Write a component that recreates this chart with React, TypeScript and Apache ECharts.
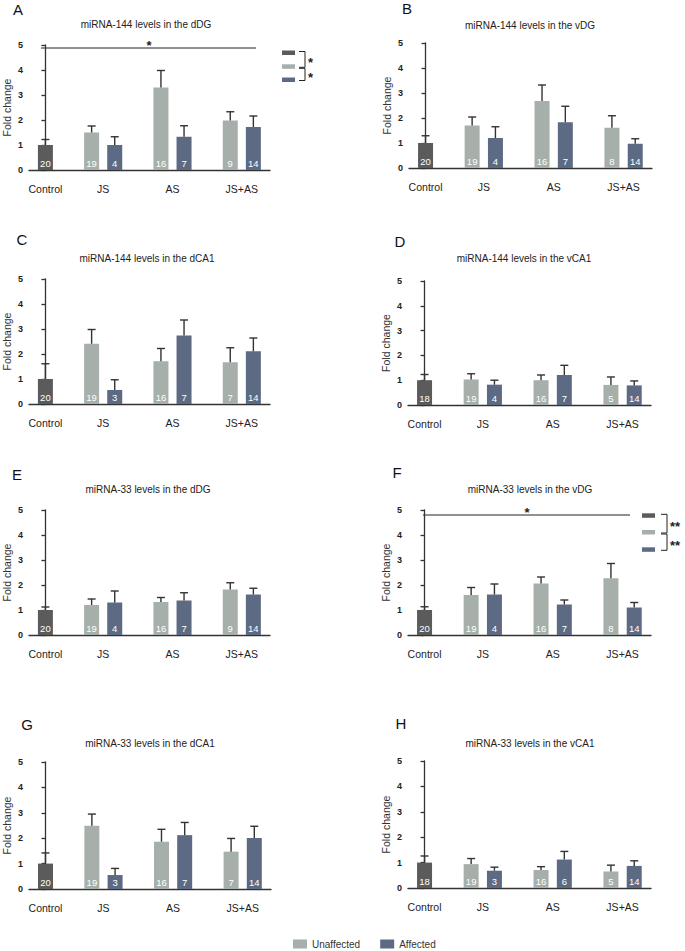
import React, { useEffect, useRef } from 'react';
import * as echarts from 'echarts';

// ---------- data ----------
const groups = ['Control', 'JS', 'AS', 'JS+AS'];
// bar order in every panel: Control, JS-Unaff, JS-Aff, AS-Unaff, AS-Aff, JS+AS-Unaff, JS+AS-Aff
const barKinds = ['Control', 'Unaffected', 'Affected', 'Unaffected', 'Affected', 'Unaffected', 'Affected'];
const legendNames = ['Unaffected', 'Affected'];
const panelLetters = ['A', 'B', 'C', 'D', 'E', 'F', 'G', 'H'];
const panelTitles = [
  'miRNA-144 levels in the dDG',
  'miRNA-144 levels in the vDG',
  'miRNA-144 levels in the dCA1',
  'miRNA-144 levels in the vCA1',
  'miRNA-33 levels in the dDG',
  'miRNA-33 levels in the vDG',
  'miRNA-33 levels in the dCA1',
  'miRNA-33 levels in the vCA1',
];
const yAxisName = 'Fold change';

const meanA = [1.0, 1.5, 1.0, 3.3, 1.33, 1.98, 1.72];
const highA = [1.22, 1.76, 1.33, 3.98, 1.77, 2.33, 2.16];
const nA = [20, 19, 4, 16, 7, 9, 14];

const meanB = [1.0, 1.7, 1.2, 2.68, 1.83, 1.61, 0.97];
const highB = [1.29, 2.04, 1.65, 3.32, 2.47, 2.09, 1.17];
const nB = [20, 19, 4, 16, 7, 8, 14];

const meanC = [1.0, 2.41, 0.56, 1.71, 2.74, 1.67, 2.11];
const highC = [1.61, 2.98, 0.97, 2.22, 3.36, 2.25, 2.64];
const nC = [20, 19, 3, 16, 7, 7, 14];

const meanD = [1.0, 1.03, 0.82, 1.0, 1.21, 0.81, 0.79];
const highD = [1.23, 1.26, 1.0, 1.21, 1.6, 1.13, 0.97];
const nD = [18, 19, 4, 16, 7, 5, 14];

const meanE = [1.0, 1.2, 1.3, 1.32, 1.38, 1.82, 1.62];
const highE = [1.12, 1.44, 1.76, 1.5, 1.69, 2.09, 1.87];
const nE = [20, 19, 4, 16, 7, 9, 14];

const meanF = [1.0, 1.6, 1.62, 2.06, 1.22, 2.27, 1.1];
const highF = [1.13, 1.9, 2.04, 2.32, 1.4, 2.86, 1.3];
const nF = [20, 19, 4, 16, 7, 8, 14];

const meanG = [1.0, 2.49, 0.55, 1.86, 2.12, 1.47, 2.01];
const highG = [1.42, 2.95, 0.81, 2.35, 2.62, 1.99, 2.47];
const nG = [20, 19, 3, 16, 7, 7, 14];

const meanH = [1.0, 0.94, 0.68, 0.71, 1.12, 0.65, 0.87];
const highH = [1.26, 1.16, 0.82, 0.84, 1.44, 0.9, 1.07];
const nH = [18, 19, 3, 16, 6, 5, 14];

const panelMeans = [meanA, meanB, meanC, meanD, meanE, meanF, meanG, meanH];
const panelHighs = [highA, highB, highC, highD, highE, highF, highG, highH];
const panelNs = [nA, nB, nC, nD, nE, nF, nG, nH];

// ---------- layout / style ----------
const FONT = '"Liberation Sans", Arial, Helvetica, sans-serif';
const COLORS: Record<string, string> = {
  Control: '#5b5b5b',
  Unaffected: '#a6afa9',
  Affected: '#5c6a83',
};
const SLOT = [0, 2, 3, 5, 6, 8, 9];
const GROUP_CENTER = [0, 2.5, 5.5, 8.5];
const X_MIN = -0.71;
const X_MAX = 9.72;
const GRID_W = 243;

const boxes = [
  { left: 27, top: 45, h: 125, tx: 146, ty: 24, lx: 18, ly: 9 },
  { left: 409, top: 43, h: 125, tx: 530, ty: 25, lx: 407, ly: 8 },
  { left: 27, top: 279, h: 125, tx: 147, ty: 258, lx: 22, ly: 239 },
  { left: 408, top: 281, h: 124, tx: 524, ty: 258, lx: 400, ly: 241 },
  { left: 27, top: 510, h: 125, tx: 148, ty: 489, lx: 17, ly: 474 },
  { left: 408, top: 510, h: 125, tx: 530, ty: 489, lx: 397, ly: 472 },
  { left: 28, top: 762, h: 127, tx: 150, ty: 743, lx: 27, ly: 724 },
  { left: 408, top: 761, h: 127, tx: 530, ty: 743, lx: 401, ly: 723 },
];

const AXIS_COLOR = '#333';

function sigKey(x0: number, y0: number, boxX: number, boxW: number, rowY: number[], brX: number, label: string) {
  const els: any[] = [];
  const kinds = ['Control', 'Unaffected', 'Affected'];
  rowY.forEach((y, i) => {
    els.push({ type: 'rect', shape: { x: boxX, y: y - 2, width: boxW, height: 4.5 }, style: { fill: COLORS[kinds[i]] } });
  });
  const pairs = [[rowY[0], rowY[1]], [rowY[1] + 3, rowY[2]]];
  pairs.forEach(([a, b]) => {
    els.push({
      type: 'polyline',
      shape: { points: [[brX, a - 1], [brX + 6, a - 1], [brX + 6, b + 1], [brX, b + 1]] },
      style: { stroke: '#222', lineWidth: 1, fill: 'none' },
    });
    els.push({
      type: 'text',
      x: brX + 9,
      y: (a + b) / 2 + 3,
      style: { text: label, font: `bold 13px ${FONT}`, fill: '#222', align: 'left', verticalAlign: 'middle' },
    });
  });
  return els;
}

export default function App() {
  const ref = useRef<HTMLDivElement>(null);

  useEffect(() => {
    if (!ref.current) return;
    const chart = echarts.init(ref.current, null, { renderer: 'svg' });

    const grid = boxes.map((b) => ({ left: b.left, top: b.top, width: GRID_W, height: b.h }));
    const xAxis = boxes.map((_, i) => ({
      type: 'value',
      gridIndex: i,
      min: X_MIN,
      max: X_MAX,
      axisLine: { show: true, onZero: false, lineStyle: { color: AXIS_COLOR, width: 1.3 } },
      axisTick: { show: false },
      axisLabel: { show: false },
      splitLine: { show: false },
    }));
    const yAxis = boxes.map((_, i) => ({
      type: 'value',
      gridIndex: i,
      min: 0,
      max: 5,
      interval: 1,
      name: yAxisName,
      nameLocation: 'middle',
      nameGap: 17,
      nameTextStyle: { fontSize: 10.5, color: '#333', fontFamily: FONT },
      axisLine: { show: true, lineStyle: { color: AXIS_COLOR, width: 1.3 } },
      axisTick: { show: true, length: 4, lineStyle: { color: AXIS_COLOR, width: 1.3 } },
      axisLabel: { fontSize: 9, fontWeight: 'bold', color: '#222', margin: 6, fontFamily: FONT },
      splitLine: { show: false },
    }));

    const series: any[] = [];
    panelMeans.forEach((means, i) => {
      const highs = panelHighs[i];
      const ns = panelNs[i];
      series.push({
        type: 'bar',
        xAxisIndex: i,
        yAxisIndex: i,
        barWidth: 15,
        silent: true,
        data: means.map((m, j) => ({
          value: [SLOT[j], m],
          itemStyle: { color: COLORS[barKinds[j]] },
        })),
        label: {
          show: true,
          position: 'insideBottom',
          distance: 2,
          color: '#fff',
          fontSize: 9.5,
          fontFamily: FONT,
          formatter: (p: any) => String(ns[p.dataIndex]),
        },
      });
      series.push({
        type: 'custom',
        xAxisIndex: i,
        yAxisIndex: i,
        silent: true,
        z: 3,
        data: means.map((m, j) => [SLOT[j], m, highs[j]]),
        encode: { x: 0, y: [1, 2] },
        renderItem: (_p: any, api: any) => {
          const x = api.value(0);
          const b = api.coord([x, api.value(1)]);
          const t = api.coord([x, api.value(2)]);
          const st = { stroke: '#333', lineWidth: 1.4 };
          return {
            type: 'group',
            children: [
              { type: 'line', shape: { x1: b[0], y1: b[1], x2: t[0], y2: t[1] }, style: st },
              { type: 'line', shape: { x1: t[0] - 4, y1: t[1], x2: t[0] + 4, y2: t[1] }, style: st },
            ],
          };
        },
      });
      series.push({
        type: 'custom',
        xAxisIndex: i,
        yAxisIndex: i,
        silent: true,
        data: groups.map((_g, j) => [GROUP_CENTER[j], 0]),
        encode: { x: 0, y: 1 },
        renderItem: (p: any, api: any) => {
          const c = api.coord([api.value(0), api.value(1)]);
          return {
            type: 'text',
            x: c[0],
            y: c[1] + 19,
            style: {
              text: groups[p.dataIndex],
              fill: '#222',
              font: `10.5px ${FONT}`,
              align: 'center',
              verticalAlign: 'middle',
            },
          };
        },
      });
    });
    legendNames.forEach((name) => {
      series.push({
        type: 'line',
        name,
        xAxisIndex: 0,
        yAxisIndex: 0,
        data: [],
        itemStyle: { color: COLORS[name] },
        lineStyle: { color: COLORS[name] },
      });
    });

    const graphic: any[] = [];
    boxes.forEach((b, i) => {
      graphic.push({
        type: 'text',
        x: b.tx,
        y: b.ty,
        style: { text: panelTitles[i], font: `10px ${FONT}`, fill: '#222', align: 'center', verticalAlign: 'middle' },
      });
      graphic.push({
        type: 'text',
        x: b.lx,
        y: b.ly,
        style: { text: panelLetters[i], font: `15px ${FONT}`, fill: '#111', align: 'center', verticalAlign: 'middle' },
      });
    });
    // Panel A significance annotations
    graphic.push({ type: 'line', shape: { x1: 41, y1: 48, x2: 256, y2: 48 }, style: { stroke: '#222', lineWidth: 1 } });
    graphic.push({
      type: 'text', x: 149, y: 45,
      style: { text: '*', font: `bold 13px ${FONT}`, fill: '#222', align: 'center', verticalAlign: 'middle' },
    });
    graphic.push(...sigKey(0, 0, 282, 13, [52.5, 66.3, 79.5], 299, '*'));
    // Panel F significance annotations
    graphic.push({ type: 'line', shape: { x1: 423, y1: 515, x2: 630, y2: 515 }, style: { stroke: '#222', lineWidth: 1 } });
    graphic.push({
      type: 'text', x: 527, y: 512,
      style: { text: '*', font: `bold 13px ${FONT}`, fill: '#222', align: 'center', verticalAlign: 'middle' },
    });
    graphic.push(...sigKey(0, 0, 642, 13, [515.3, 532, 549.3], 661, '**'));

    chart.setOption({
      animation: false,
      backgroundColor: '#ffffff',
      textStyle: { fontFamily: FONT },
      grid,
      xAxis,
      yAxis,
      series,
      graphic,
      legend: {
        data: legendNames.map((n) => ({ name: n, icon: 'rect' })),
        left: 288,
        top: 934,
        itemWidth: 14,
        itemHeight: 9,
        itemGap: 20,
        selectedMode: false,
        textStyle: { fontSize: 10, color: '#333', fontFamily: FONT },
      },
    });

    return () => chart.dispose();
  }, []);

  return (
    <div
      ref={ref}
      style={{ position: 'absolute', left: 0, top: 0, width: 685, height: 951, background: '#fff' }}
    />
  );
}
